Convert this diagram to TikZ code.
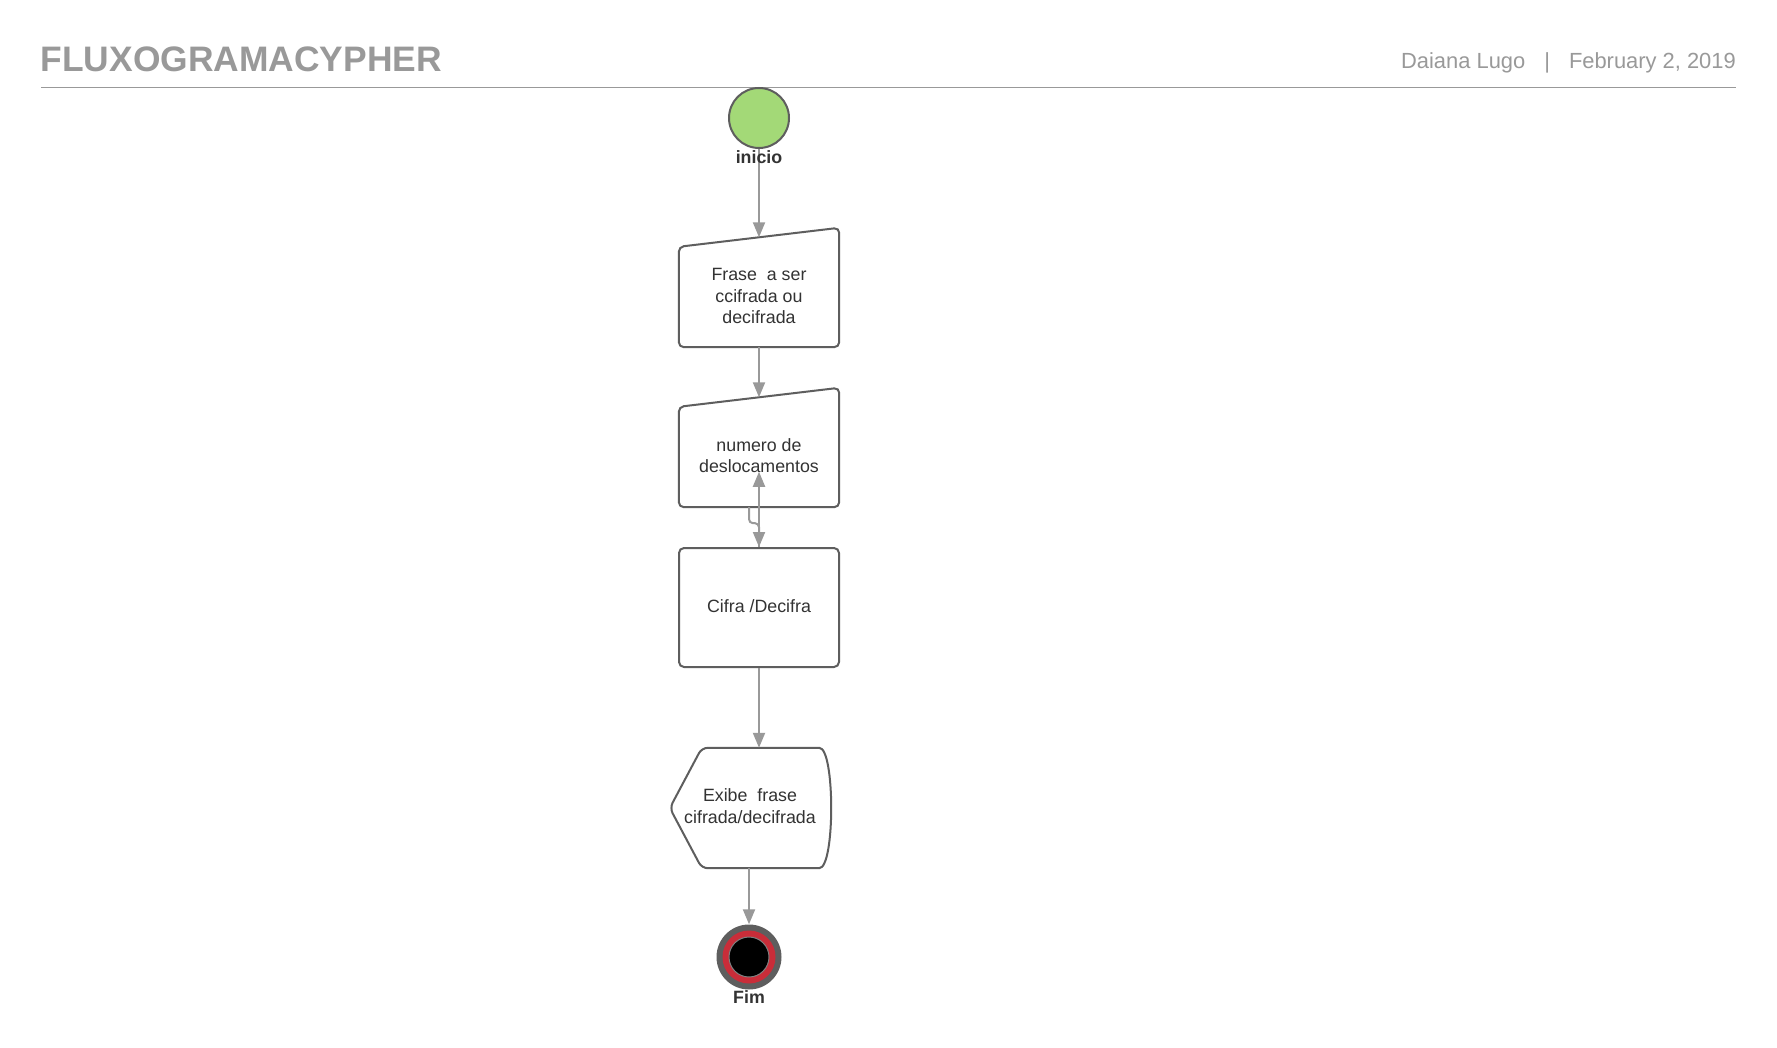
\documentclass[tikz,border=0pt]{standalone}
\usepackage{fontspec}
\setmainfont{Liberation Sans}
\usetikzlibrary{arrows.meta,calc}

\definecolor{inkgray}{HTML}{333333}
\definecolor{edgegray}{HTML}{5E5E5E}
\definecolor{linkgray}{HTML}{999999}
\definecolor{headgray}{HTML}{999999}
\definecolor{startgreen}{HTML}{A3D977}
\definecolor{stopred}{HTML}{C92D39}

\tikzset{
  boxarea/.style={inner sep=0pt, minimum width=160pt},
  boxtext/.style={inner sep=0pt, align=center, text=inkgray,
    font=\fontsize{17.8}{21.5}\selectfont},
  outline/.style={draw=edgegray, line width=2pt, rounded corners=5pt},
  conn/.style={draw=linkgray, line width=2pt,
    -{Triangle[length=15pt,width=12pt]}},
  evlabel/.style={inner sep=0pt, text=inkgray,
    font=\bfseries\fontsize{17.8}{21.5}\selectfont},
}

\begin{document}
\begin{tikzpicture}[x=1pt,y=-1pt]
  \useasboundingbox (0,0) rectangle (1777,1048);
  \fill[white] (0,0) rectangle (1777,1048);

  % header
  \node[anchor=base west, inner sep=0pt, text=headgray,
        font=\bfseries\fontsize{35.4}{40}\selectfont] (title) at (40.5,72) {FLUXOGRAMACYPHER};
  \node[anchor=base east, inner sep=0pt, text=headgray,
        font=\fontsize{21.9}{26}\selectfont] (meta) at (1736,68.7)
        {Daiana Lugo\hspace{19pt}|\hspace{19pt}February 2, 2019};
  \draw[headgray, line width=1.8pt] (41,87.5) -- (1736,87.5);

  % start event
  \node[circle, inner sep=0pt, minimum size=60pt, draw=edgegray, line width=2pt,
        fill=startgreen] (start) at (759,118) {};

  % manual input: phrase
  \node[boxarea, minimum height=109.5pt] (b1) at (759,292.25) {};
  \draw[outline] (b1.south west) -- ([yshift=-9.5pt]b1.north west)
    -- ([yshift=9.5pt]b1.north east) -- (b1.south east) -- cycle;
  \node[boxtext] (b1t) at ([yshift=-4pt]b1.center) {Frase~ a ser\\ccifrada ou\\decifrada};

  % manual input: shift count
  \node[boxarea, minimum height=109.5pt] (b2) at (759,452.25) {};
  \draw[outline] (b2.south west) -- ([yshift=-9.5pt]b2.north west)
    -- ([yshift=9.5pt]b2.north east) -- (b2.south east) -- cycle;
  \node[boxtext] (b2t) at ([yshift=-3.5pt]b2.center) {numero de\\deslocamentos};

  % process
  \node[boxarea, minimum height=119pt, outline] (b3) at (759,607.5) {};
  \node[boxtext] (b3t) at ([yshift=1pt]b3.center) {Cifra /Decifra};

  % display
  \node[boxarea, minimum height=120pt] (b4) at (750,808) {};
  \draw[outline, rounded corners=6pt] (b4.west) -- ([xshift=32pt]b4.north west)
    -- ([xshift=-17pt]b4.north east)
    .. controls ([xshift=5pt]b4.north east) and ([xshift=5pt]b4.south east) ..
    ([xshift=-17pt]b4.south east) -- ([xshift=32pt]b4.south west) -- cycle;
  \node[boxtext] (b4t) at ([yshift=2pt]b4.center) {Exibe~ frase\\cifrada/decifrada};

  % end event
  \node[circle, inner sep=0pt, minimum size=65pt, fill=edgegray] (fin) at (749,957) {};
  \fill[stopred] (fin.center) circle (26.5pt);
  \filldraw[fill=black, draw=gray, line width=1pt] (fin.center) circle (20pt);

  % connectors
  \draw[conn] (start) -- (b1.north);
  \draw[conn] (b1.south) -- (b2.north);
  \draw[conn, rounded corners=4pt] ([xshift=-10pt]b2.south) -- ++(0,16) -- ++(10,0) -- (b3.north);
  \draw[conn] (b3.north) -- ([yshift=-19.5pt]b2.center);
  \draw[conn] (b3.south) -- (b3.south |- b4.north);
  \draw[conn] (fin.north |- b4.south) -- (fin);

  % event labels
  \node[evlabel] (startlbl) at (759,157) {inicio};
  \node[evlabel] (finlbl) at (749,997) {Fim};
\end{tikzpicture}
\end{document}
